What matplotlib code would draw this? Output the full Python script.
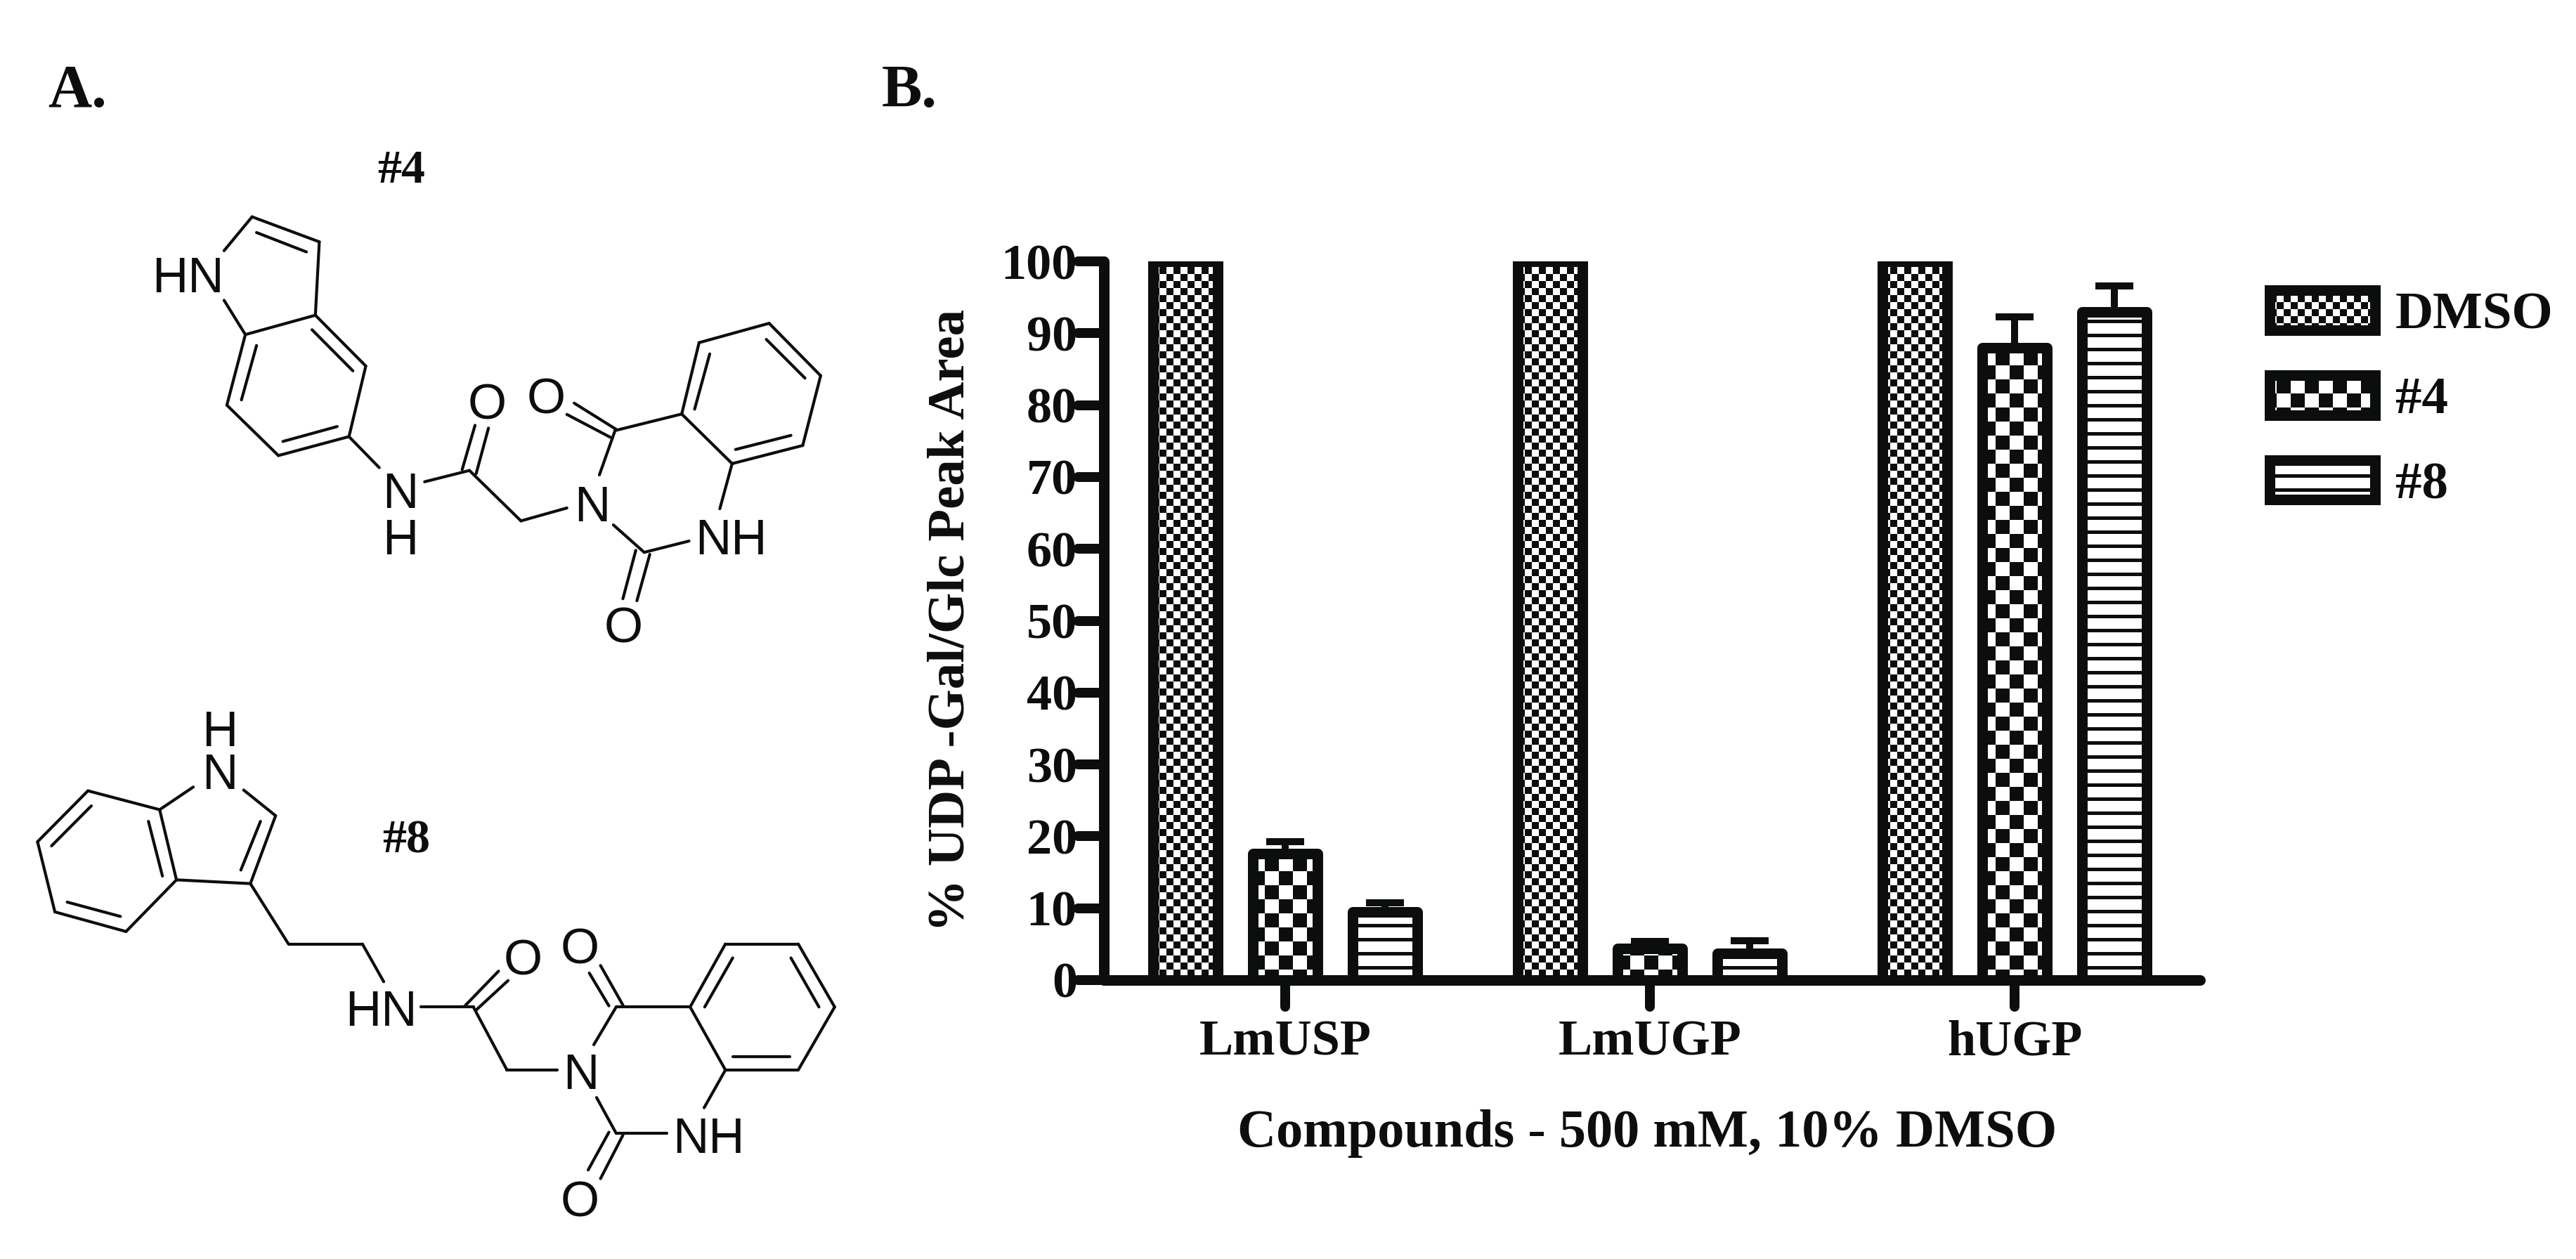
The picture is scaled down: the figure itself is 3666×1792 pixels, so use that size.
import warnings
import numpy as np
import matplotlib
matplotlib.use("Agg")
import matplotlib.pyplot as plt
from matplotlib import hatch as mhatch
from matplotlib.markers import MarkerStyle, TICKLEFT, TICKDOWN
from matplotlib.patches import Patch
from matplotlib.path import Path

warnings.filterwarnings("ignore")

W, H = 3666, 1792
DPI = 120  # hatch tile is one inch, 120 px divides evenly into the check sizes
INK = "#0c0e0d"
plt.rcParams["font.family"] = ["Liberation Serif", "DejaVu Serif"]
plt.rcParams["hatch.linewidth"] = 0


def pt(px):
    return px * 72.0 / DPI


def fs(size):
    # sizes below were worked out at 100 dpi
    return size * 100.0 / DPI


# ---- data
groups = ["LmUSP", "LmUGP", "hUGP"]
series = ["DMSO", "#4", "#8"]
dmso_vals = [100, 100, 100]
c4_vals = [17.6, 4.4, 88.0]
c8_vals = [9.5, 3.7, 93.0]
c4_top = [19.3, 5.4, 92.3]
c8_top = [10.8, 5.5, 96.6]
yticks = [0, 10, 20, 30, 40, 50, 60, 70, 80, 90, 100]

# molecule drawings, in crop pixels of the panel (x, y, x, y)
mol4_bonds = [
    (400,552,450,468),(450,468,570,530),(458,507,547,555),(570,530,563,712),
    (563,712,438,760),(438,760,400,675),(563,712,653,838),(557,748,630,850),
    (653,838,623,1013),(623,1013,497,1060),(602,988,505,1025),(497,1060,405,935),
    (405,935,438,760),(431,922,458,787),(623,1013,677,1090),(758,1125,838,1097),
    (825,1095,848,985),(850,1105,872,992),(838,1097,930,1222),(930,1222,1012,1190),
    (1070,1108,1098,998),(1090,1015,1012,958),(1100,995,1025,930),(1098,998,1217,957),
    (1217,957,1248,780),(1240,945,1267,808),(1248,780,1373,732),(1373,732,1465,862),
    (1368,772,1437,868),(1465,862,1433,1035),(1433,1035,1307,1080),(1412,1010,1313,1045),
    (1307,1080,1217,957),(1307,1080,1285,1192),(1230,1272,1150,1300),(1150,1300,1095,1232),
    (1135,1295,1112,1415),(1160,1305,1137,1420),
]
mol4_atoms = [("HN",335,610),("N",715,1145),("H",715,1260),("O",870,925),("N",1057,1178),
              ("O",975,912),("NH",1305,1260),("O",1113,1480)]
mol8_bonds = [
    (345,317,285,377),(435,325,492,393),(492,393,447,573),(465,408,430,537),
    (447,573,315,563),(315,563,285,377),(290,553,265,408),(285,377,157,327),
    (157,327,67,462),(163,367,92,473),(67,462,98,648),(98,648,225,700),
    (120,622,215,660),(225,700,315,563),(447,573,515,733),(515,733,647,733),
    (647,733,685,833),(752,900,845,900),(830,897,890,805),(850,908,907,830),
    (845,900,905,1067),(905,1067,995,1067),(1060,1000,1100,900),(1087,897,1052,810),
    (1112,895,1072,790),(1100,900,1232,900),(1232,900,1295,733),(1258,900,1308,770),
    (1295,733,1425,733),(1425,733,1490,900),(1412,770,1462,900),(1490,900,1425,1067),
    (1425,1067,1295,1067),(1410,1032,1308,1032),(1295,1067,1232,900),(1295,1067,1257,1167),
    (1190,1235,1100,1235),(1100,1235,1065,1140),(1087,1232,1050,1332),(1112,1240,1072,1355),
]
mol8_atoms = [("H",392,162),("N",392,275),("HN",680,903),("O",933,768),("N",1037,1070),
              ("O",1035,738),("NH",1265,1240),("O",1035,1408)]


# fill patterns the stock hatches don't have
class FilledTile(mhatch.HatchPatternBase):
    char = ""

    def __init__(self, hatch, density):
        self.rects = self.make_rects() if self.char in (hatch or "") else []
        self.num_vertices = len(self.rects) * 5

    def set_vertices_and_codes(self, vertices, codes):
        for i, (x0, y0, x1, y1) in enumerate(self.rects):
            vertices[i*5:(i+1)*5] = [(x0,y0),(x1,y0),(x1,y1),(x0,y1),(x0,y0)]
            codes[i*5:(i+1)*5] = [Path.MOVETO, Path.LINETO, Path.LINETO, Path.LINETO, Path.CLOSEPOLY]


def checks(n):
    c = 1.0 / n
    return [(i*c, j*c, (i+1)*c, (j+1)*c) for i in range(n) for j in range(n) if (i+j) % 2 == 0]


class FineCheck(FilledTile):
    char = "f"
    def make_rects(self):
        return checks(12)


class BigCheck(FilledTile):
    char = "b"
    def make_rects(self):
        return checks(6)


class Stripes(FilledTile):
    char = "s"
    def make_rects(self):
        return [(0, k/6.0, 1, k/6.0 + 1/24.0) for k in range(6)]


mhatch._hatch_types.extend([FineCheck, BigCheck, Stripes])
hatches = ["f", "b", "s"]

fig = plt.figure(figsize=(W/DPI, H/DPI), dpi=DPI, facecolor="white")

# overlay for panel A and panel letters, in image pixels
bg = fig.add_axes([0, 0, 1, 1])
bg.set_xlim(0, W)
bg.set_ylim(H, 0)
bg.axis("off")


def draw_mol(bonds, atoms, x0, y0, sx, sy):
    for x1, y1, x2, y2 in bonds:
        bg.plot([x0+x1*sx, x0+x2*sx], [y0+y1*sy, y0+y2*sy], color=INK, lw=pt(4.2),
                solid_capstyle="round")
    for s, x, y in atoms:
        bg.text(x0+x*sx, y0+y*sy, s, family="Liberation Sans", fontsize=fs(51), color=INK,
                ha="center", va="center_baseline")


draw_mol(mol4_bonds, mol4_atoms, 0, 40, 1250/1568, 900/1568)
draw_mol(mol8_bonds, mol8_atoms, 0, 950, 1250/1568, 842/1568)

bold = dict(weight="bold", color=INK, ha="center", va="center_baseline")
bg.text(110, 122, "A.", fontsize=fs(62), **bold)
bg.text(1294, 122, "B.", fontsize=fs(62), **bold)
bg.text(571, 236, "#4", fontsize=fs(49), **bold)
bg.text(578, 1190, "#8", fontsize=fs(49), **bold)

# panel B
x_l, x_r, y_t, y_b = 1571, 3131, 372, 1395
ax = fig.add_axes([x_l/W, 1-y_b/H, (x_r-x_l)/W, (y_b-y_t)/H])
ax.patch.set_visible(False)
unit = 141.7
ax.set_xlim((x_l-1829)/unit, (x_r-1829)/unit)
ax.set_ylim(0, 100)

centers = np.array([0, 3.663, 7.326])
edge = pt(15)
all_vals = [dmso_vals, c4_vals, c8_vals]
for k, vals in enumerate(all_vals):
    ax.bar(centers+k-1, vals, width=0.65, facecolor="white", edgecolor=INK, linewidth=edge,
           hatch=hatches[k], joinstyle="round", zorder=1)
for k, tops in [(1, c4_top), (2, c8_top)]:
    vals = np.array(all_vals[k])
    err = np.array(tops) - vals
    ax.errorbar(centers+k-1, vals, yerr=[np.zeros(3), err], fmt="none", ecolor=INK,
                elinewidth=pt(10), capsize=pt(27), capthick=pt(10), clip_on=False, zorder=0.9)

ax.spines["top"].set_visible(False)
ax.spines["right"].set_visible(False)
for s in ["left", "bottom"]:
    ax.spines[s].set_linewidth(edge)
    ax.spines[s].set_color(INK)
    ax.spines[s].set_capstyle("round")

ax.set_yticks(yticks)
ax.set_xticks(centers)
ax.set_xticklabels(groups)
ax.tick_params(axis="y", length=pt(37), width=pt(14), color=INK, pad=pt(1))
ax.tick_params(axis="x", length=pt(38), width=pt(14), color=INK, pad=pt(19))
for lab in ax.get_yticklabels() + ax.get_xticklabels():
    lab.set_fontsize(fs(52))
    lab.set_fontweight("bold")
    lab.set_color(INK)
for t in ax.yaxis.get_major_ticks():
    t.tick1line.set_marker(MarkerStyle(TICKLEFT, capstyle="round"))
for t in ax.xaxis.get_major_ticks():
    t.tick1line.set_marker(MarkerStyle(TICKDOWN, capstyle="round"))

fig.text(2344/W, 1-1614/H, "Compounds - 500 mM, 10% DMSO", fontsize=fs(55), fontweight="bold",
         color=INK, ha="center", va="center")
fig.text(1353/W, 1-883/H, "% UDP -Gal/Glc Peak Area", fontsize=fs(54), fontweight="bold",
         color=INK, rotation=90, ha="center", va="center")

handles = [Patch(facecolor="white", edgecolor=INK, linewidth=edge, hatch=h, joinstyle="round")
           for h in hatches]
leg = ax.legend(handles, series, loc="upper left", bbox_to_anchor=(3230/W, 1-413/H),
                bbox_transform=fig.transFigure, frameon=False,
                handlelength=2.0, handleheight=0.79, handletextpad=0.38,
                labelspacing=0.67, borderpad=0, borderaxespad=0,
                prop=dict(weight="bold", size=fs(54)))
for t in leg.get_texts():
    t.set_color(INK)

fig.savefig("out.png", dpi=DPI)
